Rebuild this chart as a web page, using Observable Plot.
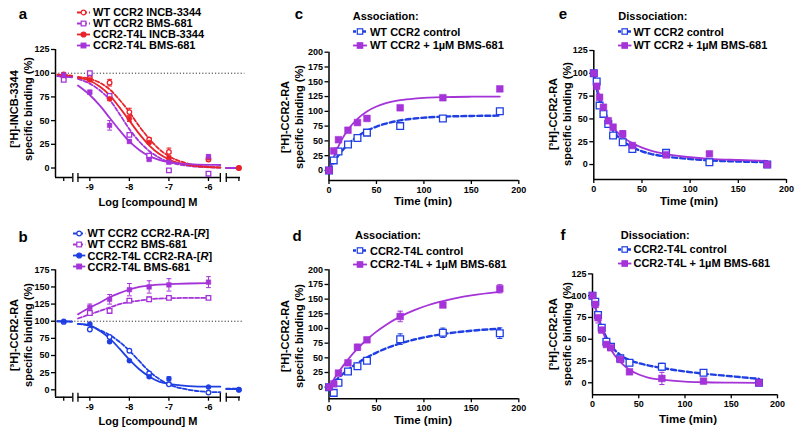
<!DOCTYPE html>
<html><head><meta charset="utf-8">
<script src="https://cdn.jsdelivr.net/npm/d3@7"></script>
<script src="https://cdn.jsdelivr.net/npm/@observablehq/plot@0.6"></script>
<style>
html,body{margin:0;padding:0;background:#fff;}
#fig{position:relative;width:800px;height:434px;overflow:hidden;font-family:"Liberation Sans",Arial,Helvetica,sans-serif;font-weight:bold;color:#000;}
#fig .abs{position:absolute;white-space:nowrap;line-height:1;}
#fig svg.panel{position:absolute;overflow:visible;}
</style></head>
<body><div id="fig"></div>
<script>
// ---------------- DATA ----------------
// Panels a / b : concentration-response (x = log [compound] M; -9.66 = control, -5.23 = non-specific)
const doseX = [-9.66, -9, -8.5, -8, -7.5, -7, -6, -5.23];
const doseTicks = [-9.66, -9, -8, -7, -6, -5.23];
const doseTickLabels = ["", "-9", "-8", "-7", "-6", ""];
const fitDoseX = [-9.82, -9.45, -9.3, -9, -8.75, -8.5, -8.25, -8, -7.75, -7.5, -7.25, -7, -6.5, -6, -5.7, -5.55, -5.25];

const aWtIncb = [96, 95, 90, 59, 30, 17, 9, 0];
const aWtIncbErr = [0, 1.5, 3.5, 4, 2, 4, 1.5, 0];
const aWtBms = [93, 100, 76, 35, 13, -2.5, -6, null];
const aWtBmsErr = [0, 1, 2, 1.5, 1, 1, 1, 0];
const aT4lIncb = [99, 93, 73, 52, 27, 10, 10.5, 0];
const aT4lIncbErr = [1.5, 2, 2, 3, 1.5, 2, 1.5, 0];
const aT4lBms = [98, 80, 45, 28, 9, 6, 12, null];
const aT4lBmsErr = [0, 2, 5, 1.5, 1, 1, 2, 0];
const aWtIncbFit = [98.5, 97.5, 96, 94, 90, 83, 72, 59, 44, 31, 20, 12.5, 4.5, 1.5, 0.7, 0, 0];
const aWtBmsFit = [97, 96, 94, 89, 82, 72, 57, 41, 28, 18, 11, 6.5, 2.2, 0.8, 0.4, 0, 0];
const aT4lIncbFit = [98, 97, 95, 92, 86, 77, 64, 50, 36, 24, 15, 9, 3, 1, 0.5, 0, 0];
const aT4lBmsFit = [97, 95.5, 87, 77, 66, 53, 40, 28, 19, 12.5, 8.6, 6.2, 4, 3.3, 3.2, 0, 0];

const bWtRa = [99, 88, 77, 57, 24, 8, -4, 0];
const bWtRaErr = [0, 1, 1.5, 2, 2, 1.5, 1, 0];
const bWtBms = [null, 112, 115, 130, 132, 134, 134, null];
const bWtBmsErr = [0, 2, 2, 3, 3, 2, 1, 0];
const bT4lRa = [100, 96, 70, 42.5, 19, 16, 4, 0];
const bT4lRaErr = [0, 1.5, 1.5, 1.5, 1.5, 3, 1, 0];
const bT4lBms = [null, 120, 132, 146, 150, 153, 157, null];
const bT4lBmsErr = [0, 5, 7, 9, 9, 9, 8, 0];
const bWtRaFit = [100, 99.5, 96, 93, 87, 80, 70, 57, 42, 27, 16, 8, 0, -3, -3.5, 1.5, 1.5];
const bWtBmsFit = [null, null, 104, 110, 115, 120, 125, 128, 130, 132, 133, 133.5, 134, 134, null, null, null];
const bT4lRaFit = [100, 99.5, 96, 94, 86, 75, 60, 44, 30, 19.5, 12, 8.5, 5.5, 4.5, 4.5, 1, 1];
const bT4lBmsFit = [null, null, 110, 120, 127, 135, 141, 146, 150, 152, 153.5, 154, 155, 155.5, null, null, null];

// Panels c / d : association (min)
const assocTime = [0, 5, 10, 20, 30, 40, 75, 120, 180];
const assocFitTime = [0, 5, 10, 15, 20, 30, 40, 50, 60, 75, 90, 105, 120, 150, 180];
const cWtControl = [0, 17, 32, 44, 55, 64, 75, 88, 100];
const cWtBms = [0, 33, 52, 68, 81, 88, 106, 123, 138];
const cWtControlFit = [0, 13.7, 25.5, 35.4, 44, 57.4, 67.1, 74.2, 79.3, 84.6, 87.8, 89.8, 91, 92.2, 92.7];
const cWtBmsFit = [0, 22.7, 41.2, 56.4, 68.8, 87.4, 99.8, 108.1, 113.7, 118.8, 121.6, 123.1, 124, 124.7, 124.9];
const dT4lControl = [0, -9.7, 7.4, 26.7, 35.8, 45, 81.8, 92.6, 92];
const dT4lControlErr = [0, 2, 2, 2, 4, 3, 9, 8, 9];
const dT4lBms = [0, 5.7, 24, 41.5, 68, 80.7, 120.5, 140, 167.6];
const dT4lBmsErr = [0, 1, 2, 2, 5, 3, 9, 4, 7];
const dT4lControlFit = [0, 8.3, 16, 23, 29.5, 41, 50.7, 59, 66, 74.6, 81.2, 86.4, 90.5, 96.2, 99.6];
const dT4lBmsFit = [0, 13.2, 25.4, 36.7, 47.1, 65.6, 81.3, 94.7, 106.1, 120.2, 131.2, 140, 146.7, 156.4, 162.4];

// Panels e / f : dissociation (min)
const dissocTime = [0, 3, 6, 10, 15, 20, 30, 40, 75, 120, 180];
const dissocFitTime = [0, 2.5, 5, 7.5, 10, 15, 20, 30, 40, 50, 60, 75, 100, 120, 150, 180];
const eWtControl = [100, 91, 64.6, 55.5, 44.5, 31.8, 24.5, 17, 12.8, 2.6, 0];
const eWtBms = [100, 85.8, 73.7, 62.8, 48, 41, 33.6, 20.8, 10.6, 11.7, 0];
const eWtBmsErr = [0, 0, 0, 0, 0, 0, 3.5, 0, 0, 0, 0];
const eWtControlFit = [100, 86, 74, 65, 57, 46, 37, 26, 19, 14.5, 11.5, 8.8, 6, 4.5, 3.3, 2.6];
const eWtBmsFit = [100, 89, 78.5, 70, 62, 50, 41, 30, 23.5, 18.5, 15, 11.5, 8, 6.3, 5, 4];
const fT4lControl = [100, 93, 77.8, 63.2, 47, 41.4, 28, 23, 18.4, 11.5, 0];
const fT4lControlErr = [0, 0, 2, 0, 0, 0, 0, 0, 4, 2, 0];
const fT4lBms = [100, 90, 74.7, 60.5, 44, 40.2, 26.8, 12.6, 5, 1.9, 0];
const fT4lBmsErr = [0, 3, 6, 2, 2, 2, 2, 1.5, 7, 2, 0];
const fT4lControlFit = [100, 89, 79.5, 71, 64, 52, 43, 32, 26, 22.5, 20, 17, 13, 10.5, 7.5, 4.5];
const fT4lBmsFit = [100, 89, 79, 70, 62, 48.5, 38, 24, 15, 9.5, 6, 3.5, 1.3, 0.6, 0.2, 0];

const timeTicks = [0, 50, 100, 150, 200];

// ---------------- STYLE ----------------
const RED = "#e8232b", VIOLET = "#a433d8", BLUE = "#1f3fe3";
const FONT = '"Liberation Sans", Arial, Helvetica, sans-serif';

const vbar = {draw(ctx, size) { const h = Math.sqrt(size / Math.PI); ctx.moveTo(0, -h); ctx.lineTo(0, h); }};
const hbar = {draw(ctx, size) { const h = Math.sqrt(size / Math.PI); ctx.moveTo(-h, 0); ctx.lineTo(h, 0); }};

function pts(xs, ys, errs) {
  return xs.map((x, i) => ({x, y: ys[i], e: errs ? errs[i] : 0})).filter(d => d.y != null);
}
function fitPts(xs, ys, breaks) {
  return xs.map((x, i) => ({x, y: ys[i], seg: breaks ? (x < breaks[0] ? 0 : x > breaks[1] ? 2 : 1) : 1}))
           .filter(d => d.y != null);
}

const fig = document.getElementById("fig");

function buildPanel(p) {
  const [x0, x1] = p.xDomain, [y0, y1] = p.yDomain;
  const marks = [];
  marks.push(Plot.ruleX([{x: x0}], {x: "x", y1: () => y0, y2: () => y1, stroke: "#000", strokeWidth: 1.5}));
  marks.push(Plot.ruleY(p.axisSegments.map(([a, b]) => ({a, b})), {y: () => y0, x1: "a", x2: "b", stroke: "#000", strokeWidth: 1.5}));
  if (p.breakMarks) marks.push(Plot.dot(p.breakMarks.map(x => ({x})), {x: "x", y: () => y0, symbol: vbar, r: 4.5, stroke: "#000", strokeWidth: 1.3}));
  marks.push(Plot.axisX({ticks: p.xTicks, tickFormat: p.xTickFormat, tickSize: 4, tickPadding: 2, label: null, strokeWidth: 1.3}));
  marks.push(Plot.axisY({ticks: p.yTicks, tickSize: 4, tickPadding: 2, label: null, strokeWidth: 1.3}));
  if (p.refLine != null) marks.push(Plot.ruleY([{y: p.refLine, a: x0, b: p.refEnd}], {y: "y", x1: "a", x2: "b", stroke: "#333", strokeWidth: 1, strokeDasharray: "1.2,2"}));
  for (const s of p.series) {
    const opts = {x: "x", y: "y", z: "seg", stroke: s.color, strokeWidth: s.lw, curve: "monotone-x"};
    if (s.dash) opts.strokeDasharray = s.dash;
    marks.push(Plot.line(s.fit, opts));
  }
  for (const s of p.series) {
    const eb = s.points.filter(d => d.e > 0);
    marks.push(Plot.ruleX(eb, {x: "x", y1: d => d.y - d.e, y2: d => d.y + d.e, stroke: s.color, strokeWidth: 1}));
    marks.push(Plot.dot(eb.flatMap(d => [{x: d.x, y: d.y - d.e}, {x: d.x, y: d.y + d.e}]),
      {x: "x", y: "y", symbol: hbar, r: p.capR, stroke: s.color, strokeWidth: 1}));
  }
  for (const s of p.series) {
    marks.push(Plot.dot(s.points, {x: "x", y: "y", symbol: s.symbol, r: s.r,
      fill: s.filled ? s.color : "white", stroke: s.color, strokeWidth: s.filled ? 0.5 : 1.3}));
  }
  const svg = Plot.plot({
    width: p.width, height: p.height,
    marginLeft: p.ml, marginRight: p.mr, marginTop: p.mt, marginBottom: p.mb,
    x: {domain: p.xDomain}, y: {domain: p.yDomain},
    style: {fontFamily: FONT, fontWeight: "bold", fontSize: "9px", background: "transparent", color: "#000", overflow: "visible"},
    marks
  });
  svg.classList.add("panel");
  svg.style.left = p.left + "px";
  svg.style.top = p.top + "px";
  fig.appendChild(svg);
}

function addText(txt, x, y, o = {}) {
  const d = document.createElement("div");
  d.className = "abs";
  d.textContent = txt;
  d.style.left = x + "px"; d.style.top = y + "px";
  d.style.fontSize = (o.size || 11) + "px";
  d.style.transform = `translate(${o.start ? "0" : "-50%"},-50%)` + (o.rotate ? " rotate(-90deg)" : "");
  fig.appendChild(d);
}

function addLegend(items, x, y0, dy, sw, gap) {
  items.forEach((s, i) => {
    const d = document.createElement("div");
    d.className = "abs";
    d.style.left = x + "px"; d.style.top = (y0 + dy * i) + "px";
    d.style.transform = "translate(0,-50%)";
    d.style.display = "flex"; d.style.alignItems = "center"; d.style.fontSize = "11px";
    const m = sw / 2, h = 10, c = h / 2;
    const side = s.legR * 1.8;
    const mk = s.symbol === "square"
      ? `<rect x="${m - side / 2}" y="${c - side / 2}" width="${side}" height="${side}" fill="${s.filled ? s.color : "white"}" stroke="${s.color}" stroke-width="1.2"/>`
      : `<circle cx="${m}" cy="${c}" r="${s.legR}" fill="${s.filled ? s.color : "white"}" stroke="${s.color}" stroke-width="1.2"/>`;
    d.innerHTML = `<svg width="${sw}" height="${h}" style="overflow:visible"><line x1="0" x2="${sw}" y1="${c}" y2="${c}" stroke="${s.color}" stroke-width="${s.lw}" ${s.dash ? `stroke-dasharray="${s.legDash || s.dash}"` : ""}/>${mk}</svg><span style="margin-left:${gap}px">${s.label}</span>`;
    fig.appendChild(d);
  });
}

// ---------------- PANELS ----------------
const doseBreaks = [-9.37, -5.62];
const doseSegments = [[-9.868, -9.43], [-9.30, -5.70], [-5.55, -5.19]];
const doseBreakMarks = [-9.43, -9.30, -5.70, -5.55];
const doseFmt = d => doseTickLabels[doseTicks.indexOf(d)] ?? "";

const aSeries = [
  {label: "WT CCR2 INCB-3344", color: RED, dash: "4,2", lw: 1.8, symbol: "circle", filled: false, r: 2.3, legR: 2.3,
   points: pts(doseX, aWtIncb, aWtIncbErr), fit: fitPts(fitDoseX, aWtIncbFit, doseBreaks)},
  {label: "WT CCR2 BMS-681", color: VIOLET, dash: "4,2", lw: 1.8, symbol: "square", filled: false, r: 2.6, legR: 2.6,
   points: pts(doseX, aWtBms, aWtBmsErr), fit: fitPts(fitDoseX, aWtBmsFit, doseBreaks)},
  {label: "CCR2-T4L INCB-3344", color: RED, lw: 1.8, symbol: "circle", filled: true, r: 2.5, legR: 2.5,
   points: pts(doseX, aT4lIncb, aT4lIncbErr), fit: fitPts(fitDoseX, aT4lIncbFit, doseBreaks)},
  {label: "CCR2-T4L BMS-681", color: VIOLET, lw: 1.8, symbol: "square", filled: true, r: 2.6, legR: 2.6,
   points: pts(doseX, aT4lBms, aT4lBmsErr), fit: fitPts(fitDoseX, aT4lBmsFit, doseBreaks)}
];
buildPanel({left: 0, top: 0, width: 260, height: 215, ml: 55, mr: 20, mt: 49, mb: 38,
  xDomain: [-9.868, -5.19], yDomain: [-10, 125], xTicks: doseTicks, xTickFormat: doseFmt,
  yTicks: [0, 25, 50, 75, 100, 125], axisSegments: doseSegments, breakMarks: doseBreakMarks,
  refLine: 100, refEnd: -5.08, capR: 2.4, series: aSeries});

const bSeries = [
  {label: "WT CCR2 CCR2-RA-[R]", color: BLUE, dash: "4,2", lw: 1.8, symbol: "circle", filled: false, r: 2.3, legR: 2.3,
   points: pts(doseX, bWtRa, bWtRaErr), fit: fitPts(fitDoseX, bWtRaFit, doseBreaks)},
  {label: "WT CCR2 BMS-681", color: VIOLET, dash: "4,2", lw: 1.8, symbol: "square", filled: false, r: 2.6, legR: 2.6,
   points: pts(doseX, bWtBms, bWtBmsErr), fit: fitPts(fitDoseX, bWtBmsFit, doseBreaks)},
  {label: "CCR2-T4L CCR2-RA-[R]", color: BLUE, lw: 1.8, symbol: "circle", filled: true, r: 2.5, legR: 2.5,
   points: pts(doseX, bT4lRa, bT4lRaErr), fit: fitPts(fitDoseX, bT4lRaFit, doseBreaks)},
  {label: "CCR2-T4L BMS-681", color: VIOLET, lw: 1.8, symbol: "square", filled: true, r: 2.6, legR: 2.6,
   points: pts(doseX, bT4lBms, bT4lBmsErr), fit: fitPts(fitDoseX, bT4lBmsFit, doseBreaks)}
];
buildPanel({left: 0, top: 215, width: 260, height: 219, ml: 55, mr: 20, mt: 54.3, mb: 37.3,
  xDomain: [-9.868, -5.19], yDomain: [-10.8, 175], xTicks: doseTicks, xTickFormat: doseFmt,
  yTicks: [0, 25, 50, 75, 100, 125, 150, 175], axisSegments: doseSegments, breakMarks: doseBreakMarks,
  refLine: 100, refEnd: -5.12, capR: 2.4, series: bSeries});

function kinSeries(ctrlLabel, bmsLabel, tx, ctrl, ctrlErr, bms, bmsErr, ftx, ctrlFit, bmsFit) {
  return [
    {label: ctrlLabel, color: BLUE, dash: "5,3", legDash: "3,2", lw: 2.4, symbol: "square", filled: false, r: 3.8, legR: 3,
     points: pts(tx, ctrl, ctrlErr), fit: fitPts(ftx, ctrlFit)},
    {label: bmsLabel, color: VIOLET, lw: 1.8, symbol: "square", filled: true, r: 3.8, legR: 3,
     points: pts(tx, bms, bmsErr), fit: fitPts(ftx, bmsFit)}
  ];
}
const cSeries = kinSeries("WT CCR2 control", "WT CCR2 + 1µM BMS-681", assocTime, cWtControl, null, cWtBms, null, assocFitTime, cWtControlFit, cWtBmsFit);
buildPanel({left: 260, top: 0, width: 265, height: 215, ml: 68.5, mr: 6.7, mt: 51.7, mb: 35,
  xDomain: [0, 200], yDomain: [-17, 200], xTicks: timeTicks, yTicks: d3.range(0, 201, 25),
  axisSegments: [[0, 200]], capR: 2.6, series: cSeries});

const dSeries = kinSeries("CCR2-T4L control", "CCR2-T4L + 1µM BMS-681", assocTime, dT4lControl, dT4lControlErr, dT4lBms, dT4lBmsErr, assocFitTime, dT4lControlFit, dT4lBmsFit);
buildPanel({left: 260, top: 215, width: 265, height: 219, ml: 68.5, mr: 6.7, mt: 54.3, mb: 35.7,
  xDomain: [0, 200], yDomain: [-19.8, 200], xTicks: timeTicks, yTicks: d3.range(0, 201, 25),
  axisSegments: [[0, 200]], capR: 2.6, series: dSeries});

const eSeries = kinSeries("WT CCR2 control", "WT CCR2 + 1µM BMS-681", dissocTime, eWtControl, null, eWtBms, eWtBmsErr, dissocFitTime, eWtControlFit, eWtBmsFit);
buildPanel({left: 525, top: 0, width: 275, height: 215, ml: 68.3, mr: 14, mt: 50, mb: 36,
  xDomain: [0, 200], yDomain: [-16.4, 125], xTicks: timeTicks, yTicks: [0, 25, 50, 75, 100, 125],
  axisSegments: [[0, 200]], capR: 2.6, series: eSeries});

const fSeries = kinSeries("CCR2-T4L control", "CCR2-T4L + 1µM BMS-681", dissocTime, fT4lControl, fT4lControlErr, fT4lBms, fT4lBmsErr, dissocFitTime, fT4lControlFit, fT4lBmsFit);
buildPanel({left: 525, top: 215, width: 275, height: 219, ml: 67, mr: 23, mt: 58.4, mb: 39.7,
  xDomain: [0, 200], yDomain: [-13.8, 125], xTicks: timeTicks, yTicks: [0, 25, 50, 75, 100, 125],
  axisSegments: [[0, 200]], capR: 2.6, series: fSeries});

// ---------------- TEXT ----------------
addText("a", 23, 13, {size: 15}); addText("b", 23, 236, {size: 15});
addText("c", 299, 13, {size: 15}); addText("d", 297, 235, {size: 15});
addText("e", 563, 13, {size: 15}); addText("f", 563, 234, {size: 15});

addText("[³H]-INCB-3344", 13.5, 109, {rotate: true}); addText("specific binding (%)", 27.5, 109, {rotate: true});
addText("[³H]-CCR2-RA", 13.5, 335, {rotate: true}); addText("specific binding (%)", 27.5, 335, {rotate: true});
addText("[³H]-CCR2-RA", 284.5, 117, {rotate: true}); addText("specific binding (%)", 298.5, 117, {rotate: true});
addText("[³H]-CCR2-RA", 284.5, 336, {rotate: true}); addText("specific binding (%)", 298.5, 336, {rotate: true});
addText("[³H]-CCR2-RA", 553, 114, {rotate: true}); addText("specific binding (%)", 567, 114, {rotate: true});
addText("[³H]-CCR2-RA", 553, 334, {rotate: true}); addText("specific binding (%)", 567, 334, {rotate: true});

addText("Log [compound] M", 148, 202, {size: 11}); addText("Log [compound] M", 148, 421, {size: 11});
addText("Time (min)", 423, 202, {size: 11.5}); addText("Time (min)", 423, 421, {size: 11.5});
addText("Time (min)", 689, 202, {size: 11.5}); addText("Time (min)", 688, 420, {size: 11.5});

addLegend(aSeries, 77, 12, 11, 13, 3);
addLegend(bSeries, 73, 233, 11.3, 12.3, 2.3);
addText("Association:", 352.7, 16, {start: true}); addLegend(cSeries, 352.7, 31.7, 13.3, 14, 3.3);
addText("Association:", 355, 235, {start: true}); addLegend(dSeries, 352.7, 250.7, 13.3, 14, 3.3);
addText("Dissociation:", 618.3, 16, {start: true}); addLegend(eSeries, 618.3, 31.7, 13.3, 13.4, 1.8);
addText("Dissociation:", 620.7, 235, {start: true}); addLegend(fSeries, 618.3, 249, 14, 13.4, 1.8);

document.querySelectorAll("#fig span").forEach(s => { if (s.textContent.includes("[R]")) s.innerHTML = s.textContent.replace("[R]", "[<i>R</i>]"); });
</script>
</body></html>
